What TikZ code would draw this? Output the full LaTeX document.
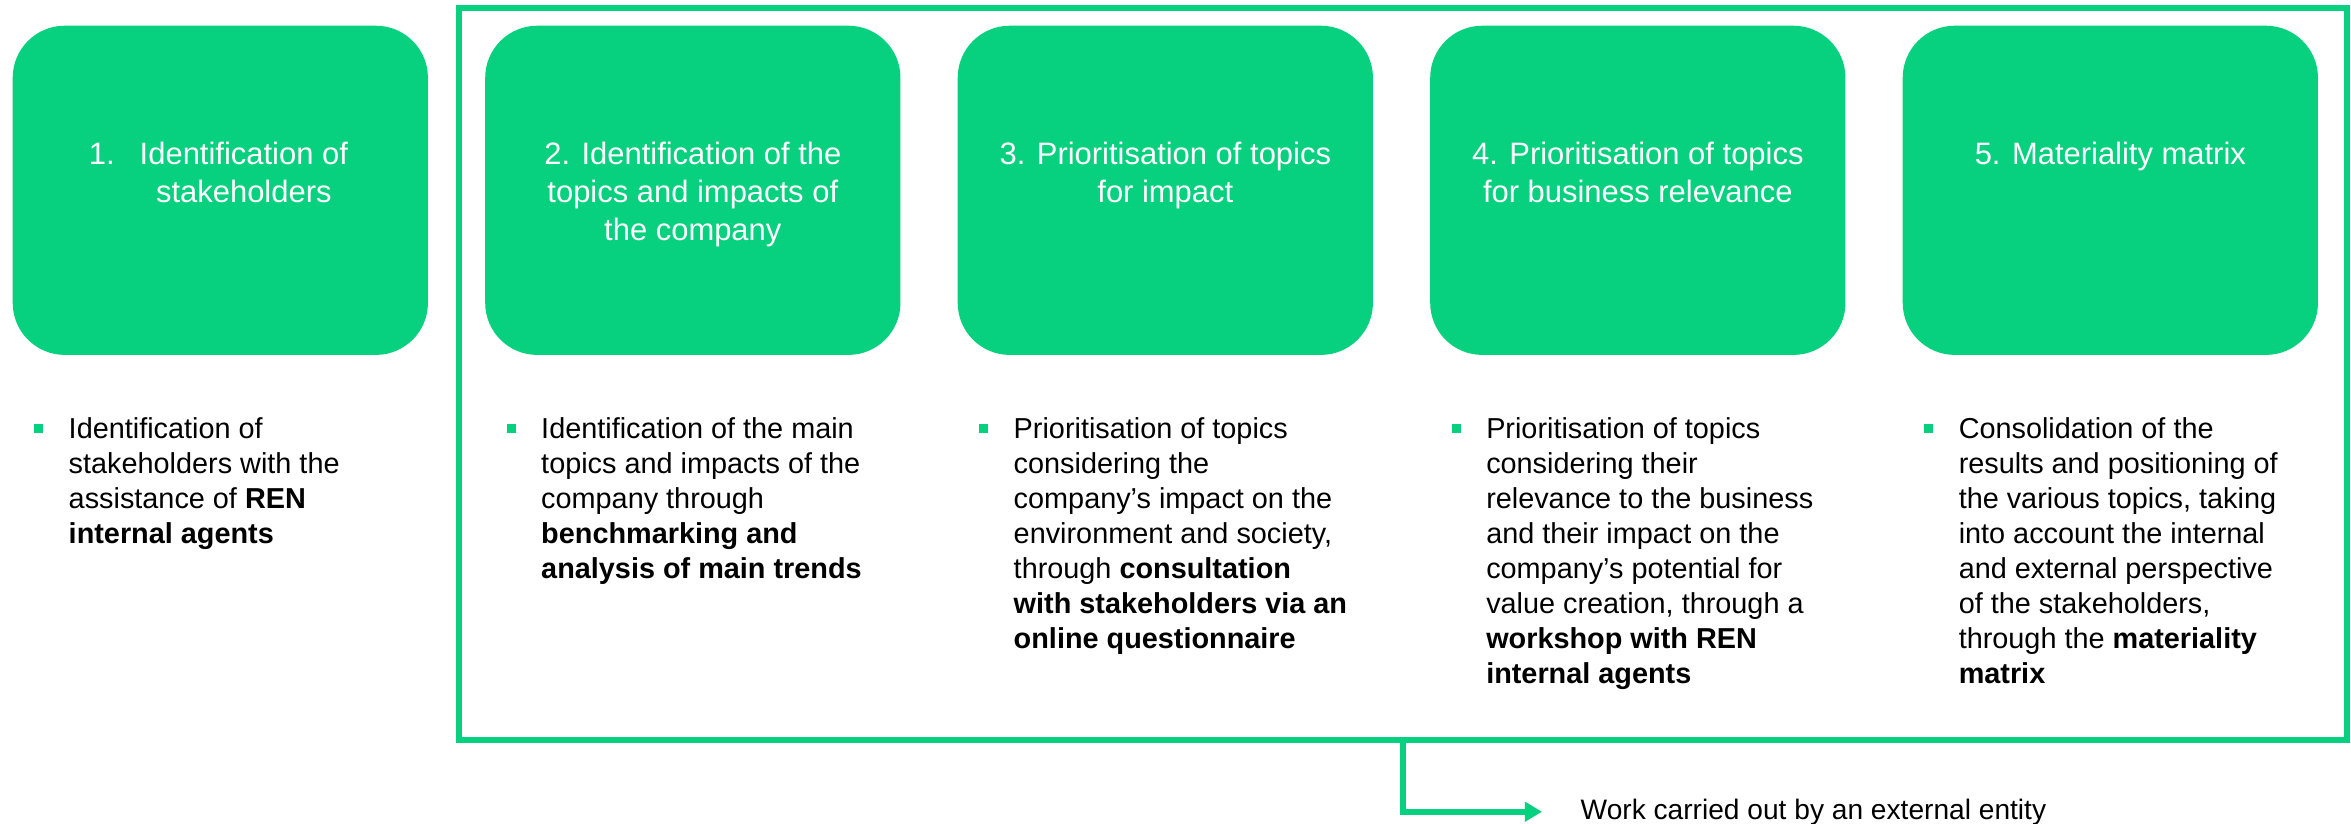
\documentclass[tikz,border=0pt]{standalone}
\usepackage{fontspec}
\setmainfont{Liberation Sans}
\usetikzlibrary{positioning,arrows.meta}
\definecolor{rengreen}{RGB}{7,208,126}
\tikzset{
stepbox/.style={
  fill=rengreen,
  rounded corners=0.52cm,
  minimum width=4.15cm,
  minimum height=3.29cm,
  inner sep=0pt,
  anchor=north west
  },
steptitle/.style={
  text=white,
  anchor=base,
  inner sep=0pt,
  font=\fontsize{8.8}{10.8}\selectfont
  },
bullettext/.style={
  anchor=base west,
  inner sep=0pt,
  font=\fontsize{8.2}{9.95}\selectfont
  },
bulletmark/.style={
  fill=rengreen,
  minimum size=0.09cm,
  inner sep=0pt
  },
greenline/.style={
  draw=rengreen,
  line width=0.06cm
  }
}
% first line of the block sits on the node's base
\newcommand{\ctrlines}[1]{\begin{tabular}[t]{@{}c@{}}#1\end{tabular}}
\newcommand{\leftlines}[1]{\begin{tabular}[t]{@{}l@{}}#1\end{tabular}}
\begin{document}
\begin{tikzpicture}[x=0.01cm,y=-0.01cm,>={Triangle[length=0.17cm,width=0.19cm]}]
    \useasboundingbox (0,0) rectangle (2351,823);
    % frame round steps 2 to 5
    \draw[greenline] (459,8) rectangle (2347,740);
    % the five steps
    \foreach \i in {1,...,5}
        \node[stepbox] (s\i) at ({12+472.5*(\i-1)},25) {};
    \node[steptitle] (h1) at ([xshift=0.235cm,yshift=-1.39cm]s1.north) {\ctrlines{\llap{1.\hspace{0.25cm}}Identification of\\stakeholders}};
    \node[steptitle] (h2) at ([yshift=-1.39cm]s2.north) {\ctrlines{2. Identification of the\\topics and impacts of\\the company}};
    \node[steptitle] (h3) at ([yshift=-1.39cm]s3.north) {\ctrlines{3. Prioritisation of topics\\for impact}};
    \node[steptitle] (h4) at ([yshift=-1.39cm]s4.north) {\ctrlines{4. Prioritisation of topics\\for business relevance}};
    \node[steptitle] (h5) at ([yshift=-1.39cm]s5.north) {\ctrlines{5. Materiality matrix}};
    % bullets under the steps
    \foreach \i in {1,...,5}
        \node[bulletmark] (m\i) at ([xshift=0.265cm,yshift=-4.035cm]s\i.north west) {};
    \node[bullettext] (t1) at ([xshift=0.56cm,yshift=-4.13cm]s1.north west) {\leftlines{Identification of\\stakeholders with the\\assistance of \textbf{REN}\\\textbf{internal agents}}};
    \node[bullettext] (t2) at ([xshift=0.56cm,yshift=-4.13cm]s2.north west) {\leftlines{Identification of the main\\topics and impacts of the\\company through\\\textbf{benchmarking and}\\\textbf{analysis of main trends}}};
    \node[bullettext] (t3) at ([xshift=0.56cm,yshift=-4.13cm]s3.north west) {\leftlines{Prioritisation of topics\\considering the\\company’s impact on the\\environment and society,\\through \textbf{consultation}\\\textbf{with stakeholders via an}\\\textbf{online questionnaire}}};
    \node[bullettext] (t4) at ([xshift=0.56cm,yshift=-4.13cm]s4.north west) {\leftlines{Prioritisation of topics\\considering their\\relevance to the business\\and their impact on the\\company’s potential for\\value creation, through a\\\textbf{workshop with REN}\\\textbf{internal agents}}};
    \node[bullettext] (t5) at ([xshift=0.56cm,yshift=-4.13cm]s5.north west) {\leftlines{Consolidation of the\\results and positioning of\\the various topics, taking\\into account the internal\\and external perspective\\of the stakeholders,\\through the \textbf{materiality}\\\textbf{matrix}}};
    % legend
    \node[bullettext,font=\fontsize{8}{9.95}\selectfont] (note) at (1580,819) {Work carried out by an external entity};
    \coordinate (tap) at (1403,740);
    \draw[greenline,->,shorten >=0.38cm] (tap) |- (note.west);
\end{tikzpicture}
\end{document}
